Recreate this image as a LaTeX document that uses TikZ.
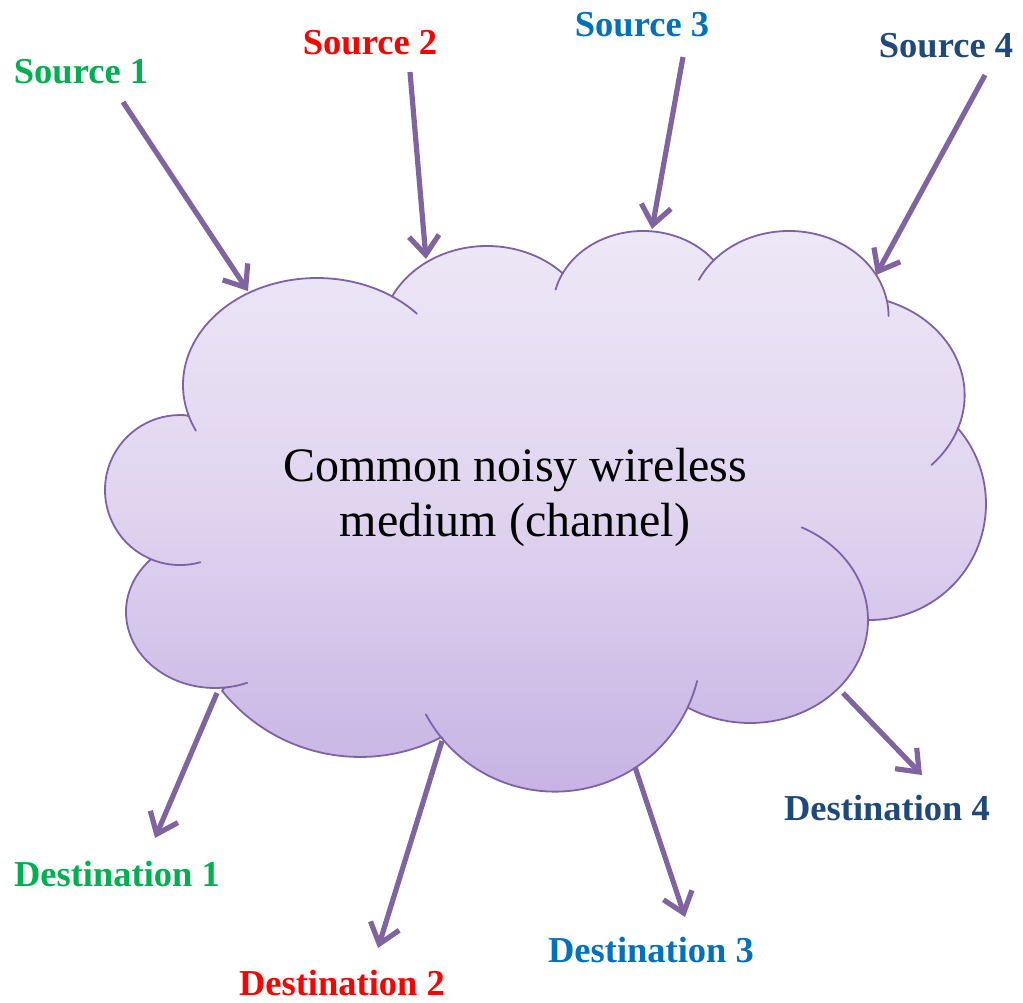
\documentclass[tikz,border=0pt]{standalone}
\usepackage{fontspec}
\setmainfont{Liberation Serif}
\usetikzlibrary{arrows.meta}

\definecolor{arrowpurple}{HTML}{8064A2}
\definecolor{cloudline}{HTML}{7D62A8}
\definecolor{cloudtop}{HTML}{EEE8F7}
\definecolor{cloudmid}{HTML}{E0D4EF}
\definecolor{cloudbot}{HTML}{C6B3E4}
\definecolor{srcgreen}{HTML}{00B050}
\definecolor{srcred}{HTML}{FF0000}
\definecolor{srcblue}{HTML}{0070C0}
\definecolor{srcnavy}{HTML}{1F497D}

\begin{document}
\begin{tikzpicture}[x=1pt, y=-1pt,
  lbl/.style={font=\fontsize{36.5}{40}\selectfont\bfseries, inner sep=0pt, anchor=center},
  link/.style={draw=arrowpurple, line width=5.2pt,
    -{Straight Barb[length=19pt, width=30pt, line width=5.2pt]}},
  cloudedge/.style={draw=cloudline, line width=1.8pt},
  lobetail/.style={cloudedge, line cap=round}]

\useasboundingbox (0,0) rectangle (1023,1003);

% cloud body: eleven elliptic lobes, clockwise from the upper-left one
\def\cloudpath{
  (188.8,416.1) arc[start angle=-163.1, end angle=-303.9, x radius=134pt, y radius=107pt]
  -- (392.3,296.1) arc[start angle=-206.7, end angle=-315.6, x radius=106pt, y radius=91pt]
  -- (562.9,272.9) arc[start angle=-207.1, end angle=-321.9, x radius=90pt, y radius=77pt]
  -- (713.1,261.0) arc[start angle=-220.3, end angle=-349.9, x radius=99.5pt, y radius=85pt]
  -- (887.0,301.0) arc[start angle=-289.7, end angle=-379.2, x radius=117.1pt, y radius=100.1pt]
  -- (957.8,428.2) arc[start angle=40.8, end angle=-91, radius=116pt]
  -- (868,620) arc[start angle=0, end angle=-121.9, x radius=118pt, y radius=103pt]
  -- (687.9,707.0) arc[start angle=-25, end angle=-139.7, radius=146.6pt]
  -- (441.5,737.1) arc[start angle=-62.6, end angle=-141.3, radius=177pt]
  -- (224.9,687.5) arc[start angle=-83.6, end angle=-223.7, x radius=89pt, y radius=76pt]
  -- (150.1,558.8) arc[start angle=-113.5, end angle=-273.9, radius=75pt]
  -- cycle}

\path[top color=cloudtop, bottom color=cloudbot, middle color=cloudmid] \cloudpath;
\path[cloudedge, line join=round] \cloudpath;

% inner lobe strokes continuing past the joins
\draw[lobetail] (195.9,430.7) arc[start angle=-154.7, end angle=-163.1, x radius=134pt, y radius=107pt];
\draw[lobetail] (391.7,296.2) arc[start angle=-303.9, end angle=-318.2, x radius=134pt, y radius=107pt];
\draw[lobetail] (555.6,289.6) arc[start angle=-193.8, end angle=-207.1, x radius=90pt, y radius=77pt];
\draw[lobetail] (698.9,279.9) arc[start angle=-205.1, end angle=-220.3, x radius=99.5pt, y radius=85pt];
\draw[lobetail] (887.0,301.1) arc[start angle=-349.9, end angle=-360, x radius=99.5pt, y radius=85pt];
\draw[lobetail] (958.1,428.1) arc[start angle=-19.2, end angle=-44.2, x radius=117.1pt, y radius=100.1pt];
\draw[lobetail] (801.7,527.4) arc[start angle=64, end angle=0, x radius=118pt, y radius=103pt];
\draw[lobetail] (697.1,681.0) arc[start angle=-14.2, end angle=-25, radius=146.6pt];
\draw[lobetail] (443.2,739.8) arc[start angle=-139.7, end angle=-151.8, radius=146.6pt];
\draw[lobetail] (247.3,682.8) arc[start angle=-68.7, end angle=-83.6, x radius=89pt, y radius=76pt];
\draw[lobetail] (200.4,562.2) arc[start angle=-74.2, end angle=-113.5, radius=75pt];

% medium label
\node[align=center, font=\fontsize{48}{55}\selectfont, inner sep=0pt] (medium) at (515,497)
  {Common noisy wireless\\medium (channel)};

% terminal labels
\node[lbl, text=srcgreen] (s1) at (81,72) {Source 1};
\node[lbl, text=srcred]   (s2) at (370,43) {Source 2};
\node[lbl, text=srcblue]  (s3) at (642,25) {Source 3};
\node[lbl, text=srcnavy]  (s4) at (946,46) {Source 4};
\node[lbl, text=srcgreen] (d1) at (117,874) {Destination 1};
\node[lbl, text=srcred]   (d2) at (342,983) {Destination 2};
\node[lbl, text=srcblue]  (d3) at (651,950) {Destination 3};
\node[lbl, text=srcnavy]  (d4) at (887,808) {Destination 4};

% connector end points
\coordinate (s1out) at (123,102);  \coordinate (s1in) at (248,291);
\coordinate (s2out) at (410,72);   \coordinate (s2in) at (426,259);
\coordinate (s3out) at (683,57);   \coordinate (s3in) at (652,229);
\coordinate (s4out) at (985,75);   \coordinate (s4in) at (876,275);
\coordinate (d1out) at (217,693);  \coordinate (d1in) at (155,838);
\coordinate (d2out) at (442,741);  \coordinate (d2in) at (378,948);
\coordinate (d3out) at (635,767);  \coordinate (d3in) at (685,917);
\coordinate (d4out) at (843,693);  \coordinate (d4in) at (922,775);

\draw[link] (s1out) -- (s1in);
\draw[link] (s2out) -- (s2in);
\draw[link] (s3out) -- (s3in);
\draw[link] (s4out) -- (s4in);
\draw[link] (d1out) -- (d1in);
\draw[link] (d2out) -- (d2in);
\draw[link] (d3out) -- (d3in);
\draw[link] (d4out) -- (d4in);

\end{tikzpicture}
\end{document}
